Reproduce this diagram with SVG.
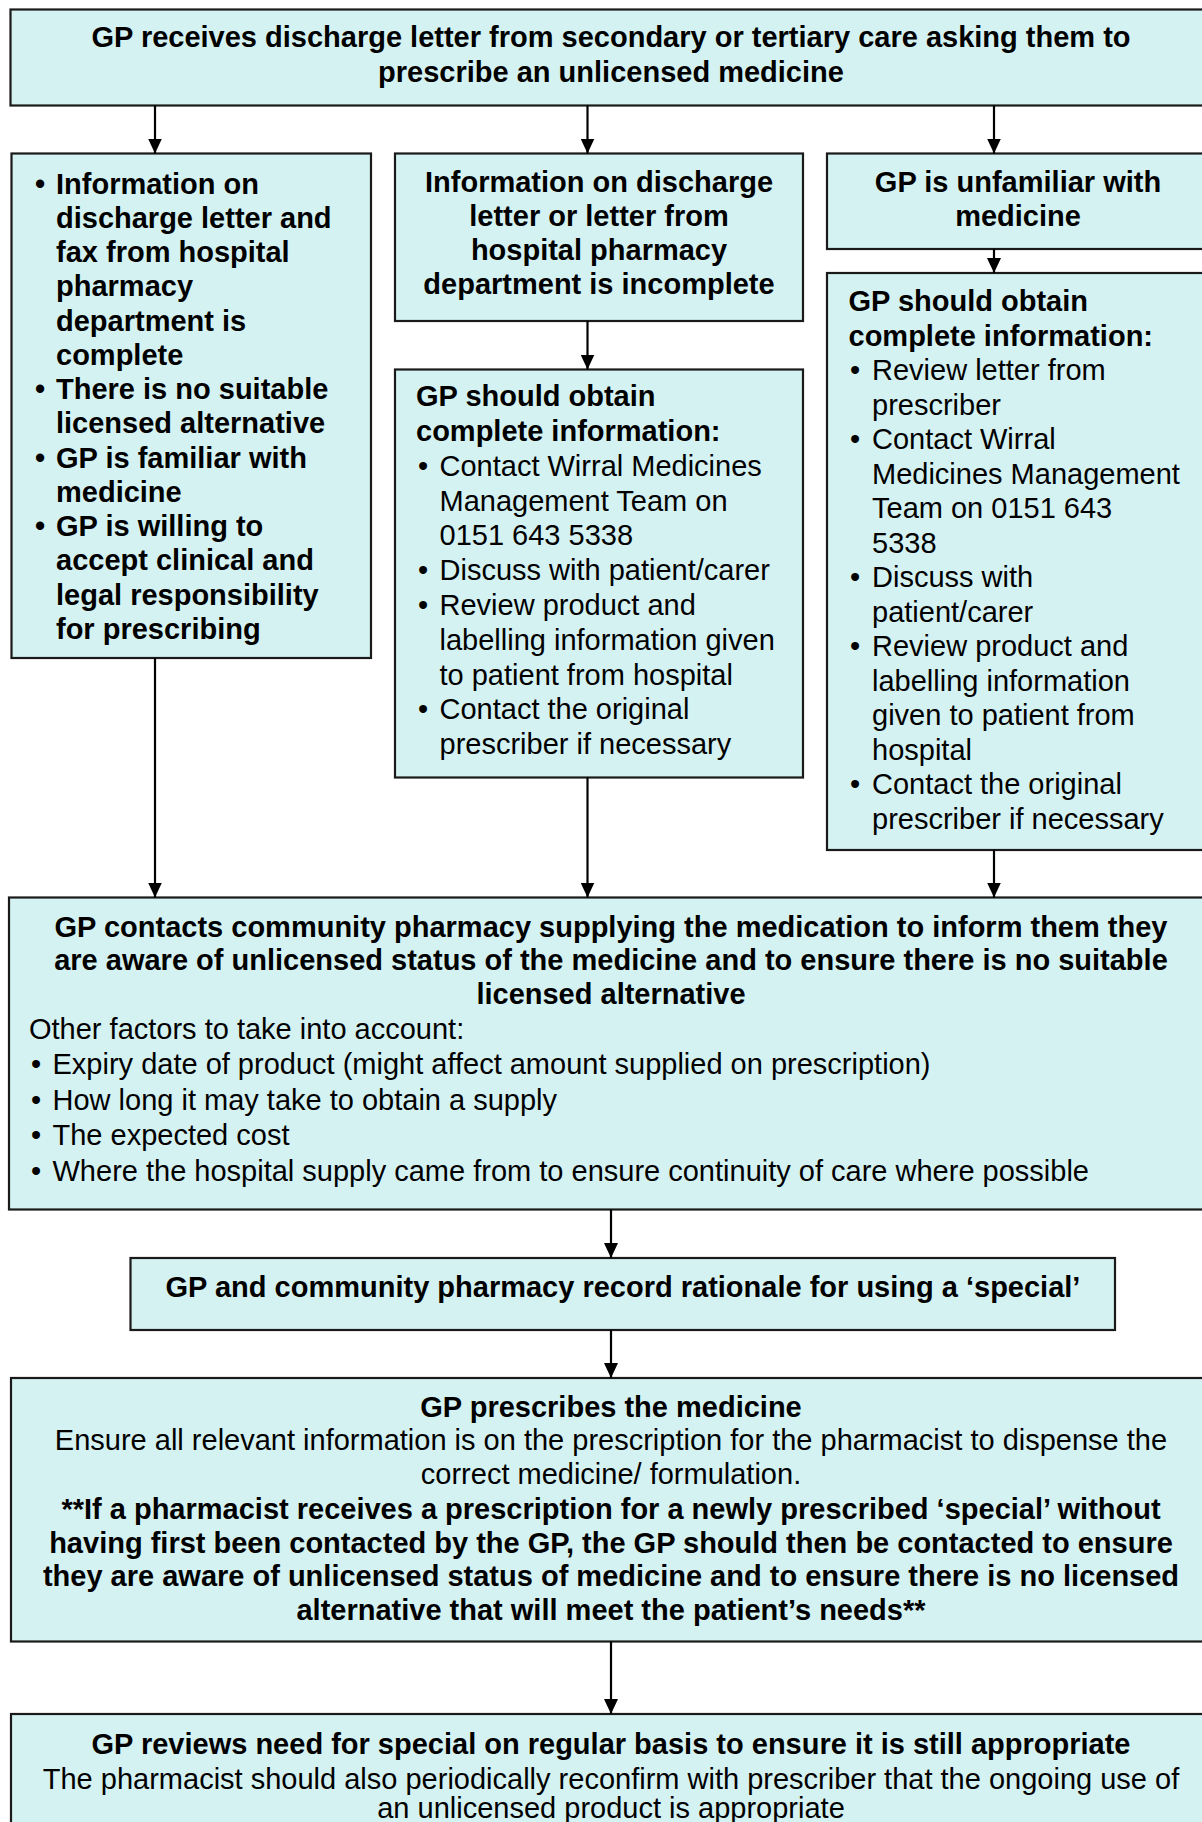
<svg xmlns="http://www.w3.org/2000/svg" width="1202" height="1822" viewBox="0 0 1202 1822">
<defs>
<marker id="ah" markerUnits="userSpaceOnUse" markerWidth="15" markerHeight="14" refX="15" refY="7" orient="auto">
<path d="M0,0 L15,7 L0,14 z" fill="#000"/>
</marker>
<style>
.box{fill:#d5f2f2;stroke:#1a1a1a;stroke-width:2.2}
.t{font-family:"Liberation Sans",Arial,sans-serif;font-size:29px;fill:#000}
.b{font-weight:bold}
.c{text-anchor:middle}
.conn line{stroke:#000;stroke-width:2.2;marker-end:url(#ah)}
</style>
</defs>
<rect width="1202" height="1822" fill="#fff"/>

<g id="n-start">
<rect class="box" x="10.5" y="9.5" width="1202" height="96"/>
<text class="t b c" x="611"><tspan x="611" y="47">GP receives discharge letter from secondary or tertiary care asking them to</tspan><tspan x="611" y="82">prescribe an unlicensed medicine</tspan></text>
</g>

<g id="n-complete">
<rect class="box" x="11.5" y="153.5" width="359.5" height="504.5"/>
<text class="t b">
<tspan x="35" y="193.5">•</tspan><tspan x="56" y="193.5">Information on</tspan>
<tspan x="56" y="227.8">discharge letter and</tspan>
<tspan x="56" y="262">fax from hospital</tspan>
<tspan x="56" y="296.3">pharmacy</tspan>
<tspan x="56" y="330.5">department is</tspan>
<tspan x="56" y="364.8">complete</tspan>
<tspan x="35" y="399">•</tspan><tspan x="56" y="399">There is no suitable</tspan>
<tspan x="56" y="433.3">licensed alternative</tspan>
<tspan x="35" y="467.5">•</tspan><tspan x="56" y="467.5">GP is familiar with</tspan>
<tspan x="56" y="501.8">medicine</tspan>
<tspan x="35" y="536">•</tspan><tspan x="56" y="536">GP is willing to</tspan>
<tspan x="56" y="570.3">accept clinical and</tspan>
<tspan x="56" y="604.5">legal responsibility</tspan>
<tspan x="56" y="638.8">for prescribing</tspan>
</text>
</g>

<g id="n-incomplete">
<rect class="box" x="395" y="153.5" width="408" height="167.5"/>
<text class="t b c"><tspan x="599" y="191.5">Information on discharge</tspan><tspan x="599" y="225.5">letter or letter from</tspan><tspan x="599" y="259.5">hospital pharmacy</tspan><tspan x="599" y="294">department is incomplete</tspan></text>
</g>

<g id="n-obtain-mid">
<rect class="box" x="395" y="369.5" width="408" height="408"/>
<text class="t b"><tspan x="416" y="406.4">GP should obtain</tspan><tspan x="416" y="441.2">complete information:</tspan></text>
<text class="t">
<tspan x="418" y="475.9">•</tspan><tspan x="439.5" y="475.9">Contact Wirral Medicines</tspan>
<tspan x="439.5" y="510.7">Management Team on</tspan>
<tspan x="439.5" y="545.4">0151 643 5338</tspan>
<tspan x="418" y="580.2">•</tspan><tspan x="439.5" y="580.2">Discuss with patient/carer</tspan>
<tspan x="418" y="615">•</tspan><tspan x="439.5" y="615">Review product and</tspan>
<tspan x="439.5" y="649.7">labelling information given</tspan>
<tspan x="439.5" y="684.5">to patient from hospital</tspan>
<tspan x="418" y="719.2">•</tspan><tspan x="439.5" y="719.2">Contact the original</tspan>
<tspan x="439.5" y="754">prescriber if necessary</tspan>
</text>
</g>

<g id="n-unfamiliar">
<rect class="box" x="827" y="153.5" width="385" height="95.5"/>
<text class="t b c"><tspan x="1018" y="191.5">GP is unfamiliar with</tspan><tspan x="1018" y="225.5">medicine</tspan></text>
</g>

<g id="n-obtain-right">
<rect class="box" x="827" y="273" width="385" height="577"/>
<text class="t b"><tspan x="848.5" y="311.1">GP should obtain</tspan><tspan x="848.5" y="345.6">complete information:</tspan></text>
<text class="t">
<tspan x="850" y="380.1">•</tspan><tspan x="872" y="380.1">Review letter from</tspan>
<tspan x="872" y="414.6">prescriber</tspan>
<tspan x="850" y="449.1">•</tspan><tspan x="872" y="449.1">Contact Wirral</tspan>
<tspan x="872" y="483.6">Medicines Management</tspan>
<tspan x="872" y="518.1">Team on 0151 643</tspan>
<tspan x="872" y="552.5">5338</tspan>
<tspan x="850" y="587">•</tspan><tspan x="872" y="587">Discuss with</tspan>
<tspan x="872" y="621.5">patient/carer</tspan>
<tspan x="850" y="656">•</tspan><tspan x="872" y="656">Review product and</tspan>
<tspan x="872" y="690.5">labelling information</tspan>
<tspan x="872" y="725">given to patient from</tspan>
<tspan x="872" y="759.5">hospital</tspan>
<tspan x="850" y="794">•</tspan><tspan x="872" y="794">Contact the original</tspan>
<tspan x="872" y="828.5">prescriber if necessary</tspan>
</text>
</g>

<g id="n-contact-pharmacy">
<rect class="box" x="9" y="897.5" width="1203" height="312"/>
<text class="t b c"><tspan x="611" y="936.5">GP contacts community pharmacy supplying the medication to inform them they</tspan><tspan x="611" y="970.2">are aware of unlicensed status of the medicine and to ensure there is no suitable</tspan><tspan x="611" y="1004">licensed alternative</tspan></text>
<text class="t">
<tspan x="29" y="1038.8">Other factors to take into account:</tspan>
<tspan x="31" y="1074">•</tspan><tspan x="52.5" y="1074">Expiry date of product (might affect amount supplied on prescription)</tspan>
<tspan x="31" y="1109.5">•</tspan><tspan x="52.5" y="1109.5">How long it may take to obtain a supply</tspan>
<tspan x="31" y="1145">•</tspan><tspan x="52.5" y="1145">The expected cost</tspan>
<tspan x="31" y="1180.5">•</tspan><tspan x="52.5" y="1180.5">Where the hospital supply came from to ensure continuity of care where possible</tspan>
</text>
</g>

<g id="n-record">
<rect class="box" x="130.5" y="1258" width="984.5" height="72"/>
<text class="t b c" x="623" y="1297">GP and community pharmacy record rationale for using a ‘special’</text>
</g>

<g id="n-prescribe">
<rect class="box" x="11" y="1378" width="1201" height="263.5"/>
<text class="t b c" x="611" y="1416.6">GP prescribes the medicine</text>
<text class="t c"><tspan x="611" y="1450.3">Ensure all relevant information is on the prescription for the pharmacist to dispense the</tspan><tspan x="611" y="1484">correct medicine/ formulation.</tspan></text>
<text class="t b c"><tspan x="611" y="1519">**If a pharmacist receives a prescription for a newly prescribed ‘special’ without</tspan><tspan x="611" y="1552.6">having first been contacted by the GP, the GP should then be contacted to ensure</tspan><tspan x="611" y="1586.4">they are aware of unlicensed status of medicine and to ensure there is no licensed</tspan><tspan x="611" y="1620">alternative that will meet the patient’s needs**</tspan></text>
</g>

<g id="n-review">
<rect class="box" x="11" y="1714" width="1201" height="130"/>
<text class="t b c" x="611" y="1753.8">GP reviews need for special on regular basis to ensure it is still appropriate</text>
<text class="t c"><tspan x="611" y="1788.6">The pharmacist should also periodically reconfirm with prescriber that the ongoing use of</tspan><tspan x="611" y="1818">an unlicensed product is appropriate</tspan></text>
</g>

<g id="connectors" class="conn">
<line x1="155" y1="105.5" x2="155" y2="153.5"/>
<line x1="587.5" y1="105.5" x2="587.5" y2="153.5"/>
<line x1="994" y1="105.5" x2="994" y2="153.5"/>
<line x1="994" y1="249" x2="994" y2="273"/>
<line x1="587.5" y1="321" x2="587.5" y2="369.5"/>
<line x1="155" y1="658" x2="155" y2="897.5"/>
<line x1="587.5" y1="777.5" x2="587.5" y2="897.5"/>
<line x1="994" y1="850" x2="994" y2="897.5"/>
<line x1="611" y1="1209.5" x2="611" y2="1258"/>
<line x1="611" y1="1330" x2="611" y2="1378"/>
<line x1="611" y1="1641.5" x2="611" y2="1714"/>
</g>
</svg>
